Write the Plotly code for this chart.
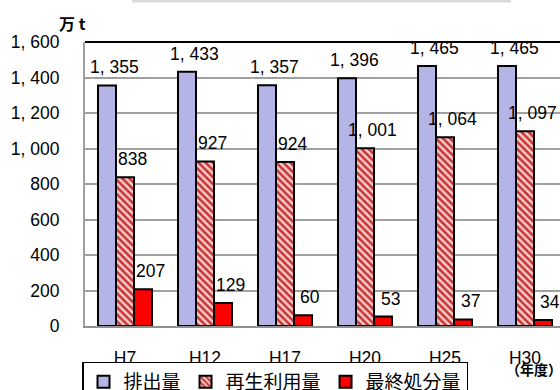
import plotly.graph_objects as go

# ---- data ----
years = ["H7", "H12", "H17", "H20", "H25", "H30"]
series_names = ["排出量", "再生利用量", "最終処分量"]
emission = [1355, 1433, 1357, 1396, 1465, 1465]
recycled = [838, 927, 924, 1001, 1064, 1097]
final_disposal = [207, 129, 60, 53, 37, 34]
y_ticks = [0, 200, 400, 600, 800, 1000, 1200, 1400, 1600]

FONT = "Liberation Sans, Arial, Noto Sans CJK JP, sans-serif"
CJK = "Noto Sans CJK JP, sans-serif"


def fmt(v):
    return f"{v:,}".replace(",", ", ")


fig = go.Figure()
fig.add_trace(go.Bar(
    x=years, y=emission, name=series_names[0],
    marker=dict(color="#b4b4e6", line=dict(color="black", width=2)),
))
fig.add_trace(go.Bar(
    x=years, y=recycled, name=series_names[1],
    marker=dict(color="#f4c4c4", line=dict(color="black", width=2),
                pattern=dict(shape="\\", fgcolor="#c83232", bgcolor="#f6cccc",
                             size=5, solidity=0.5, fillmode="replace")),
))
fig.add_trace(go.Bar(
    x=years, y=final_disposal, name=series_names[2],
    marker=dict(color="#ff0000", line=dict(color="black", width=2)),
))

BW = 0.225
annotations = []
for k, vals in enumerate([emission, recycled, final_disposal]):
    for i, v in enumerate(vals):
        annotations.append(dict(
            x=i + (k - 1) * BW, y=v, xref="x", yref="y", text=fmt(v),
            showarrow=False, xanchor="center", yanchor="bottom",
            xshift=7, yshift=6, font=dict(family=FONT, size=17.5, color="black"),
        ))

annotations.append(dict(
    x=-0.027, y=1.066, xref="paper", yref="paper", text="<b>万 t</b>",
    showarrow=False, xanchor="center", yanchor="middle",
    font=dict(family=CJK, size=16, color="black"),
))
annotations.append(dict(
    x=0.945, y=-0.151, xref="paper", yref="paper", text="<b>（年度）</b>",
    showarrow=False, xanchor="center", yanchor="middle",
    font=dict(family=CJK, size=14, color="black"),
))

shapes = [
    dict(type="line", xref="paper", yref="paper", x0=0, x1=1.02, y0=1, y1=1,
         line=dict(color="black", width=2), layer="above"),
    dict(type="rect", xref="paper", yref="paper", x0=0.0989, x1=0.8968,
         y0=1.139, y1=1.1479, line=dict(width=0), fillcolor="#d9d9d9"),
]

fig.update_layout(
    width=560, height=390,
    margin=dict(l=85, r=0, t=42, b=64, autoexpand=False),
    paper_bgcolor="white", plot_bgcolor="white",
    barmode="group", bargap=0.325, bargroupgap=0,
    font=dict(family=FONT, size=17.5, color="black"),
    showlegend=True,
    legend=dict(
        orientation="h", x=-0.0063, y=-0.125, xanchor="left", yanchor="top",
        bordercolor="black", borderwidth=1.5, bgcolor="white",
        font=dict(family=CJK, size=19, color="black"),
        itemclick=False, itemdoubleclick=False,
    ),
    xaxis=dict(
        type="category", range=[-0.5, 5.4375], showgrid=False,
        showline=True, linecolor="#909090", linewidth=2,
        ticks="", ticklabelstandoff=15, tickfont=dict(family=FONT, size=17.5),
        fixedrange=True,
    ),
    yaxis=dict(
        range=[0, 1600], tickvals=y_ticks, ticktext=[fmt(v) for v in y_ticks],
        showgrid=True, gridcolor="#a0a0a0", gridwidth=2,
        showline=True, linecolor="#a0a0a0", linewidth=2, zeroline=False,
        ticks="", ticklabelstandoff=20, tickfont=dict(family=FONT, size=17.5),
        fixedrange=True,
    ),
    annotations=annotations,
    shapes=shapes,
)

fig.write_html("out.html", config={"displayModeBar": False})
